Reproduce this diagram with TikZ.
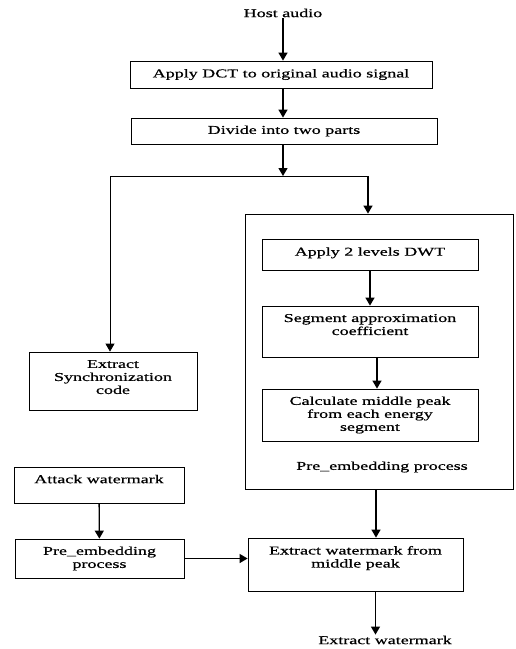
\documentclass[tikz,border=0pt]{standalone}
\usepackage{fontspec}
\setmainfont{Liberation Serif}[FakeStretch=1.5,FakeBold=0.6]
\usetikzlibrary{arrows.meta}

\begin{document}
\begin{tikzpicture}[x=1pt,y=-1pt,
    every node/.style =
    {   font=\fontsize{12}{13}\selectfont,
        align=center, inner sep=1pt
    },
    box/.style = {draw, line width=0.8pt},
    flow/.style = {line width=1.3pt, -{Triangle[width=9pt,length=8pt]}}
  ]
\useasboundingbox (0,0) rectangle (515,649);
% main chain
\node (host) at (283,13) {Host audio};
\node[box, minimum width=302pt, minimum height=27pt] (dct) at (281,74.5)
    {Apply DCT to original audio signal};
\node[box, minimum width=306pt, minimum height=26pt] (divide) at (284,131)
    {Divide into two parts};
% pre-embedding block
\node[box, minimum width=268pt, minimum height=275pt] (pre) at (379,351.5) {};
\node[box, minimum width=216pt, minimum height=31pt, text depth=6pt] (dwt) at (370,254.5)
    {Apply 2 levels DWT};
\node[box, minimum width=216pt, minimum height=51pt, text depth=14pt] (seg) at (370,331.5)
    {Segment approximation\\ coefficient};
\node[box, minimum width=216pt, minimum height=52pt] (calc) at (370,415)
    {Calculate middle peak\\ from each energy\\ segment};
\node (prelabel) at (382,467) {Pre\_embedding process};
% left side
\node[box, minimum width=168pt, minimum height=58pt, text depth=8pt] (sync) at (113,381)
    {Extract\\ Synchronization\\ code};
\node[box, minimum width=170pt, minimum height=36pt, text depth=12pt] (attack) at (99,485)
    {Attack watermark};
\node[box, minimum width=169pt, minimum height=39pt] (prepro) at (99.5,558.5)
    {Pre\_embedding\\ process};
% output
\node[box, minimum width=215pt, minimum height=53pt, text depth=15.5pt] (extr) at (355.5,564.5)
    {Extract watermark from\\ middle peak};
\node (out) at (385,640) {Extract watermark};

\coordinate (split) at (283,176);
\coordinate (lft) at (110,176);
\coordinate (rgt) at (368,176);

\draw[flow] (host) -- (host |- dct.north);
\draw[flow] (host |- dct.south) -- (host |- divide.north);
\draw[flow] (host |- divide.south) -- (split);
\draw[line width=0.8pt] (lft) -- (rgt);
\draw[flow] (rgt) -- (rgt |- pre.north);
\draw[flow, line width=0.8pt] (lft) -- (lft |- sync.north);
\draw[flow] (dwt) -- (seg);
\draw[flow] ([xshift=7pt]seg.south) -- ([xshift=7pt]calc.north);
\draw[flow] ([xshift=-3pt]pre.south) -- ([xshift=-3pt]pre.south |- extr.north);
\draw[flow] (attack) -- (prepro);
\draw[flow] (prepro.east) -- (prepro.east -| extr.west);
\draw[flow] ([xshift=20pt]extr.south) -- ([xshift=20pt]extr.south |- out.north);
\end{tikzpicture}
\end{document}
